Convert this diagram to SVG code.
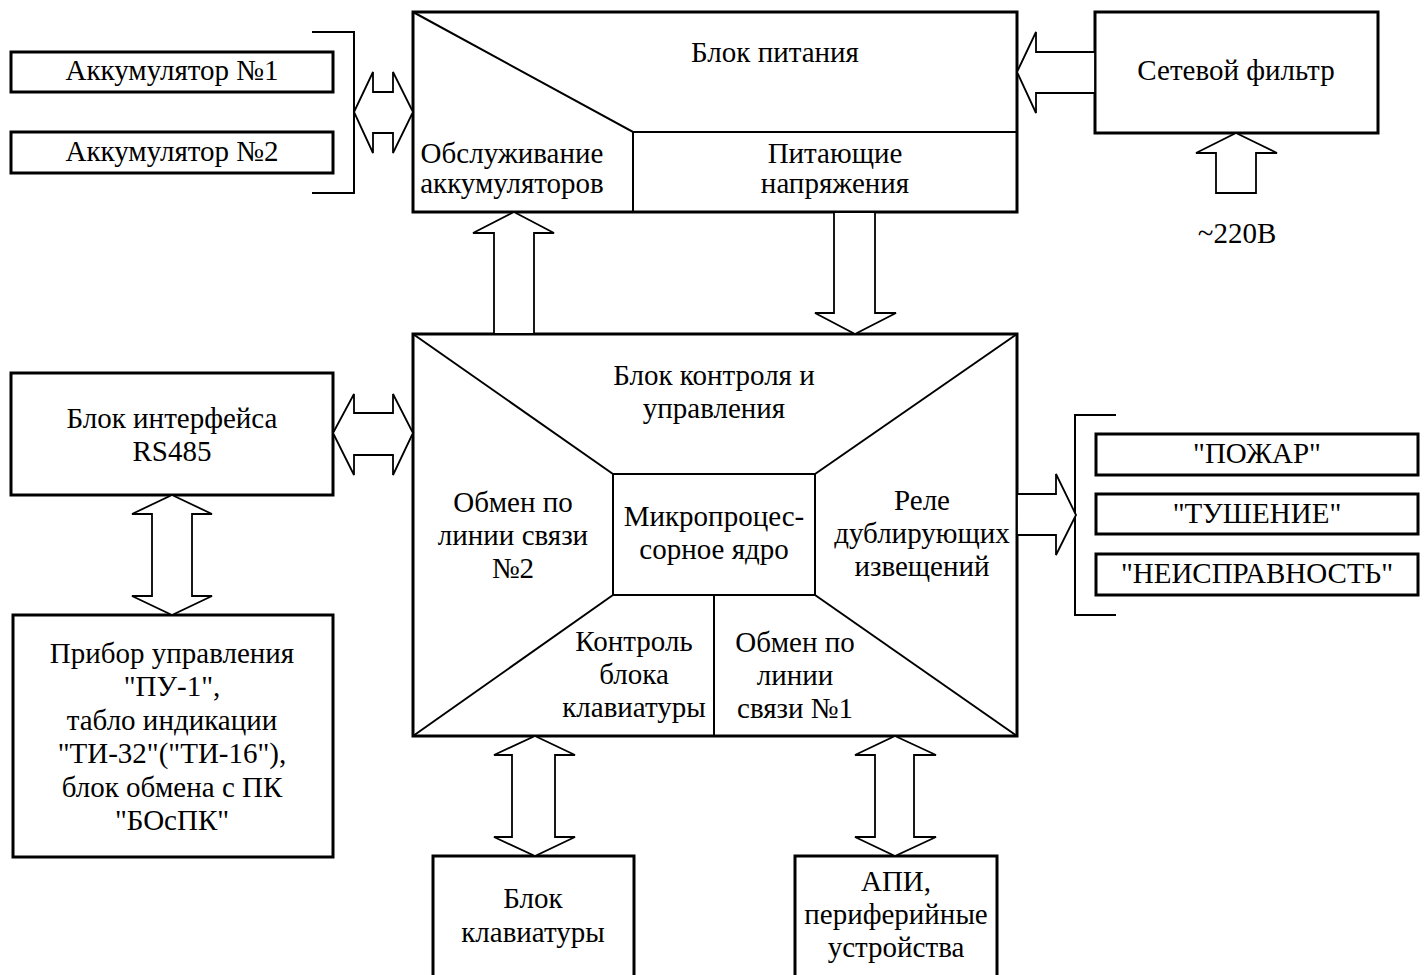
<svg xmlns="http://www.w3.org/2000/svg" width="1427" height="975" viewBox="0 0 1427 975">
<style>
.box{fill:#fff;stroke:#000;stroke-width:3}
.in{fill:none;stroke:#000;stroke-width:2}
.arr{fill:#fff;stroke:#000;stroke-width:1.8;stroke-linejoin:miter}
.br{fill:none;stroke:#000;stroke-width:2}
text{font-family:"Liberation Serif","Times New Roman",serif;font-size:29px;fill:#000;text-anchor:middle}
</style>
<rect width="1427" height="975" fill="#fff"/>
<g id="acc1"><rect class="box" x="11" y="52" width="322" height="40"/><text x="172" y="80">Аккумулятор №1</text></g>
<g id="acc2"><rect class="box" x="11" y="132" width="322" height="41"/><text x="172" y="161">Аккумулятор №2</text></g>
<g id="acc-bracket"><polyline class="br" points="312,32 354,32 354,193 312,193"/></g>
<g id="power">
<rect class="box" x="413" y="12" width="604" height="200"/>
<polyline class="in" points="413,12 633,132 1017,132"/>
<line class="in" x1="633" y1="132" x2="633" y2="212"/>
<text x="775" y="62">Блок питания</text>
<text x="512" y="163">Обслуживание</text>
<text x="512" y="193">аккумуляторов</text>
<text x="835" y="163">Питающие</text>
<text x="835" y="193">напряжения</text>
</g>
<g id="filter"><rect class="box" x="1095" y="12" width="283" height="121"/><text x="1236" y="80">Сетевой фильтр</text></g>
<g id="mains"><text x="1237" y="243">~220В</text></g>
<g id="rs485"><rect class="box" x="11" y="373" width="322" height="122"/><text x="172" y="428">Блок интерфейса</text><text x="172" y="461">RS485</text></g>
<g id="pribor"><rect class="box" x="13" y="615" width="320" height="242"/>
<text x="172" y="663">Прибор управления</text>
<text x="172" y="696">"ПУ-1",</text>
<text x="172" y="730">табло индикации</text>
<text x="172" y="763">"ТИ-32"("ТИ-16"),</text>
<text x="172" y="797">блок обмена с ПК</text>
<text x="172" y="830">"БОсПК"</text>
</g>
<g id="control">
<rect class="box" x="413" y="334" width="604" height="402"/>
<rect class="in" x="613" y="474" width="202" height="121"/>
<line class="in" x1="413" y1="334" x2="613" y2="474"/>
<line class="in" x1="413" y1="736" x2="613" y2="595"/>
<line class="in" x1="1017" y1="334" x2="815" y2="474"/>
<line class="in" x1="1017" y1="736" x2="815" y2="595"/>
<line class="in" x1="714" y1="595" x2="714" y2="736"/>
<text x="714" y="385">Блок контроля и</text>
<text x="714" y="418">управления</text>
<text x="513" y="512">Обмен по</text>
<text x="513" y="545">линии связи</text>
<text x="513" y="578">№2</text>
<text x="714" y="526">Микропроцес-</text>
<text x="714" y="559">сорное ядро</text>
<text x="922" y="510">Реле</text>
<text x="922" y="543">дублирующих</text>
<text x="922" y="576">извещений</text>
<text x="634" y="651">Контроль</text>
<text x="634" y="684">блока</text>
<text x="634" y="717">клавиатуры</text>
<text x="795" y="652">Обмен по</text>
<text x="795" y="685">линии</text>
<text x="795" y="718">связи №1</text>
</g>
<g id="relay1"><rect class="box" x="1096" y="434" width="322" height="41"/><text x="1257" y="463">"ПОЖАР"</text></g>
<g id="relay2"><rect class="box" x="1096" y="494" width="322" height="40"/><text x="1257" y="523">"ТУШЕНИЕ"</text></g>
<g id="relay3"><rect class="box" x="1096" y="554" width="322" height="41"/><text x="1257" y="583">"НЕИСПРАВНОСТЬ"</text></g>
<g id="relay-bracket"><polyline class="br" points="1116,415 1075,415 1075,615 1116,615"/></g>
<g id="keyboard"><rect class="box" x="433" y="856" width="201" height="140"/><text x="533" y="908">Блок</text><text x="533" y="942">клавиатуры</text></g>
<g id="api"><rect class="box" x="795" y="856" width="202" height="140"/><text x="896" y="891">АПИ,</text><text x="896" y="924">периферийные</text><text x="896" y="957">устройства</text></g>
<g id="connectors">
<polygon class="arr" points="354,112 373,72 373,92 393,92 393,72 413,112 393,153 393,133 373,133 373,153"/>
<polygon class="arr" points="1017,72 1036,32 1036,52 1095,52 1095,93 1036,93 1036,113"/>
<polygon class="arr" points="1236,133 1277,153 1256,153 1256,193 1216,193 1216,153 1196,153"/>
<polygon class="arr" points="514,212 554,233 534,233 534,334 494,334 494,233 473,233"/>
<polygon class="arr" points="834,212 875,212 875,313 896,313 855,334 815,313 834,313"/>
<polygon class="arr" points="333,433 354,394 354,413 393,413 393,394 413,433 393,475 393,455 354,455 354,475"/>
<polygon class="arr" points="172,495 212,514 192,514 192,596 212,596 172,615 132,596 152,596 152,514 132,514"/>
<polygon class="arr" points="1017,494 1056,494 1056,474 1076,515 1056,555 1056,535 1017,535"/>
<polygon class="arr" points="535,736 575,755 555,755 555,837 575,837 535,856 494,837 512,837 512,755 494,755"/>
<polygon class="arr" points="895,736 936,755 914,755 914,837 936,837 895,856 855,837 875,837 875,755 855,755"/>
</g>
</svg>
